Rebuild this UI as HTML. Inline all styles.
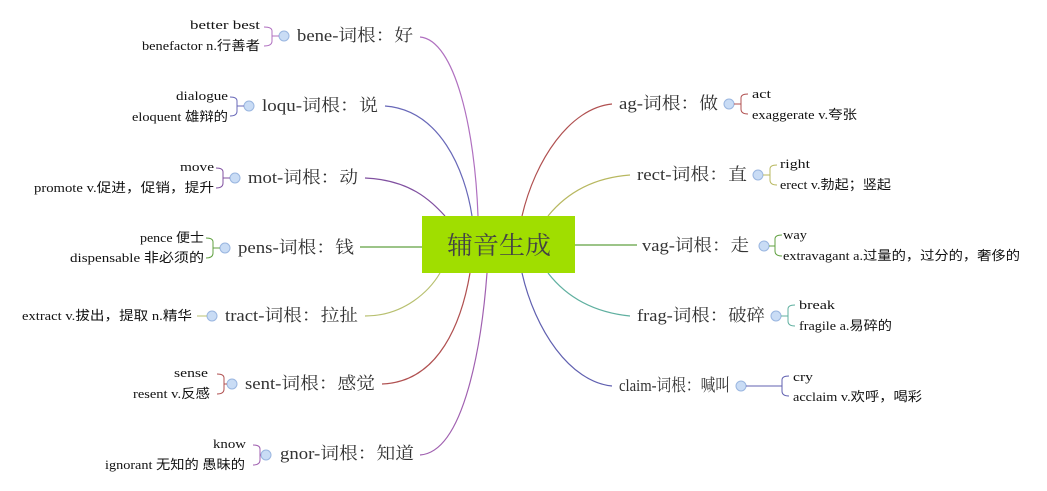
<!DOCTYPE html>
<html><head><meta charset="utf-8"><style>
html,body{margin:0;padding:0;background:#fff;}
svg{display:block}
.m{font-family:"Liberation Serif","Noto Serif CJK SC",serif;font-size:17px;fill:#333;}
.l{font-family:"Liberation Serif","Noto Sans CJK SC",serif;font-size:13px;fill:#111;}
.c{fill:#c9dcf5;stroke:#9ab6e0;stroke-width:1}
</style></head><body>
<svg width="1047" height="491" viewBox="0 0 1047 491" xmlns="http://www.w3.org/2000/svg">
<g fill="none" stroke-width="1.2">
<path d="M420 37 C455 40,475 130,478 216" stroke="#b070c0"/>
<path d="M385 106 C440 110,465 170,472 216" stroke="#6868b8"/>
<path d="M365 178 C410 180,430 200,445 216" stroke="#8050a0"/>
<path d="M360 247 L422 247" stroke="#60a040"/>
<path d="M365 316 C405 316,430 290,440 273" stroke="#b8c070"/>
<path d="M382 384 C440 382,462 320,470 273" stroke="#b05050"/>
<path d="M420 455 C465 452,482 340,487 273" stroke="#a060b0"/>
<path d="M612 104 C570 108,535 160,522 216" stroke="#b05050"/>
<path d="M630 175 C590 178,565 195,548 216" stroke="#b8b860"/>
<path d="M575 245 L637 245" stroke="#60a040"/>
<path d="M630 316 C590 312,565 295,548 273" stroke="#60b0a0"/>
<path d="M612 386 C570 382,535 330,522 273" stroke="#6060b0"/>
</g>
<rect x="422" y="216" width="153" height="57" fill="#a0de00"/>
<text x="499" y="254" text-anchor="middle" textLength="104" lengthAdjust="spacingAndGlyphs" style="font-family:'Noto Serif CJK SC',serif;font-size:25px;fill:#444">辅音生成</text>

<g>
<text class="m" x="297" y="41" textLength="116" lengthAdjust="spacingAndGlyphs">bene-词根：好</text>
<circle class="c" cx="284" cy="36" r="5"/><path d="M264 27 Q272 27,272 31 L272 41 Q272 46,264 46 M272 36 L279 36" fill="none" stroke="#b070c0"/>
<text class="l" x="260" y="29" text-anchor="end" textLength="70" lengthAdjust="spacingAndGlyphs">better  best</text>
<text class="l" x="260" y="50" text-anchor="end" textLength="118" lengthAdjust="spacingAndGlyphs">benefactor n.行善者</text>

<text class="m" x="262" y="111" textLength="116" lengthAdjust="spacingAndGlyphs">loqu-词根：说</text>
<circle class="c" cx="249" cy="106" r="5"/><path d="M230 97 Q237 97,237 101 L237 111 Q237 116,230 116 M237 106 L244 106" fill="none" stroke="#6868b8"/>
<text class="l" x="228" y="100" text-anchor="end" textLength="52" lengthAdjust="spacingAndGlyphs">dialogue</text>
<text class="l" x="228" y="121" text-anchor="end" textLength="96" lengthAdjust="spacingAndGlyphs">eloquent 雄辩的</text>

<text class="m" x="248" y="183" textLength="110" lengthAdjust="spacingAndGlyphs">mot-词根：动</text>
<circle class="c" cx="235" cy="178" r="5"/><path d="M216 168 Q223 168,223 172 L223 183 Q223 188,216 188 M223 178 L230 178" fill="none" stroke="#8050a0"/>
<text class="l" x="214" y="171" text-anchor="end" textLength="34" lengthAdjust="spacingAndGlyphs">move</text>
<text class="l" x="214" y="192" text-anchor="end" textLength="180" lengthAdjust="spacingAndGlyphs">promote v.促进，促销，提升</text>

<text class="m" x="238" y="253" textLength="116" lengthAdjust="spacingAndGlyphs">pens-词根：钱</text>
<circle class="c" cx="225" cy="248" r="5"/><path d="M206 238 Q213 238,213 242 L213 253 Q213 258,206 258 M213 248 L220 248" fill="none" stroke="#60a040"/>
<text class="l" x="204" y="242" text-anchor="end" textLength="64" lengthAdjust="spacingAndGlyphs">pence 便士</text>
<text class="l" x="204" y="262" text-anchor="end" textLength="134" lengthAdjust="spacingAndGlyphs">dispensable  非必须的</text>

<text class="m" x="225" y="321" textLength="133" lengthAdjust="spacingAndGlyphs">tract-词根：拉扯</text>
<circle class="c" cx="212" cy="316" r="5"/><path d="M197 316 L207 316" stroke="#b8c070"/>
<text class="l" x="192" y="320" text-anchor="end" textLength="170" lengthAdjust="spacingAndGlyphs">extract v.拔出，提取 n.精华</text>

<text class="m" x="245" y="389" textLength="130" lengthAdjust="spacingAndGlyphs">sent-词根：感觉</text>
<circle class="c" cx="232" cy="384" r="5"/><path d="M217 374 Q224 374,224 378 L224 389 Q224 394,217 394 M224 384 L227 384" fill="none" stroke="#b05050"/>
<text class="l" x="208" y="377" text-anchor="end" textLength="34" lengthAdjust="spacingAndGlyphs">sense</text>
<text class="l" x="210" y="398" text-anchor="end" textLength="77" lengthAdjust="spacingAndGlyphs">resent v.反感</text>

<text class="m" x="280" y="459" textLength="134" lengthAdjust="spacingAndGlyphs">gnor-词根：知道</text>
<circle class="c" cx="266" cy="455" r="5"/><path d="M253 445 Q260 445,260 449 L260 460 Q260 465,253 465 M260 455 L261 455" fill="none" stroke="#a060b0"/>
<text class="l" x="246" y="448" text-anchor="end" textLength="33" lengthAdjust="spacingAndGlyphs">know</text>
<text class="l" x="245" y="469" text-anchor="end" textLength="140" lengthAdjust="spacingAndGlyphs">ignorant 无知的 愚昧的</text>
</g>

<g>
<text class="m" x="619" y="109" textLength="99" lengthAdjust="spacingAndGlyphs">ag-词根：做</text>
<circle class="c" cx="729" cy="104" r="5"/><path d="M748 94 Q741 94,741 98 L741 109 Q741 114,748 114 M734 104 L741 104" fill="none" stroke="#b05050"/>
<text class="l" x="752" y="98" textLength="19" lengthAdjust="spacingAndGlyphs">act</text>
<text class="l" x="752" y="119" textLength="105" lengthAdjust="spacingAndGlyphs">exaggerate v.夸张</text>

<text class="m" x="637" y="180" textLength="110" lengthAdjust="spacingAndGlyphs">rect-词根：直</text>
<circle class="c" cx="758" cy="175" r="5"/><path d="M777 165 Q770 165,770 169 L770 180 Q770 185,777 185 M763 175 L770 175" fill="none" stroke="#b8b860"/>
<text class="l" x="780" y="168" textLength="30" lengthAdjust="spacingAndGlyphs">right</text>
<text class="l" x="780" y="189" textLength="111" lengthAdjust="spacingAndGlyphs">erect v.勃起；竖起</text>

<text class="m" x="642" y="251" textLength="107" lengthAdjust="spacingAndGlyphs">vag-词根：走</text>
<circle class="c" cx="764" cy="246" r="5"/><path d="M782 235 Q775 235,775 239 L775 251 Q775 256,782 256 M769 246 L775 246" fill="none" stroke="#60a040"/>
<text class="l" x="783" y="239" textLength="24" lengthAdjust="spacingAndGlyphs">way</text>
<text class="l" x="783" y="260" textLength="237" lengthAdjust="spacingAndGlyphs">extravagant a.过量的，过分的，奢侈的</text>

<text class="m" x="637" y="321" textLength="128" lengthAdjust="spacingAndGlyphs">frag-词根：破碎</text>
<circle class="c" cx="776" cy="316" r="5"/><path d="M795 305 Q788 305,788 309 L788 321 Q788 326,795 326 M781 316 L788 316" fill="none" stroke="#60b0a0"/>
<text class="l" x="799" y="309" textLength="36" lengthAdjust="spacingAndGlyphs">break</text>
<text class="l" x="799" y="330" textLength="93" lengthAdjust="spacingAndGlyphs">fragile a.易碎的</text>

<text class="m" x="619" y="391" textLength="111" lengthAdjust="spacingAndGlyphs">claim-词根：喊叫</text>
<circle class="c" cx="741" cy="386" r="5"/><path d="M789 376 Q782 376,782 380 L782 391 Q782 396,789 396 M746 386 L782 386" fill="none" stroke="#6060b0"/>
<text class="l" x="793" y="381" textLength="20" lengthAdjust="spacingAndGlyphs">cry</text>
<text class="l" x="793" y="401" textLength="129" lengthAdjust="spacingAndGlyphs">acclaim v.欢呼，喝彩</text>
</g>
</svg>
</body></html>
